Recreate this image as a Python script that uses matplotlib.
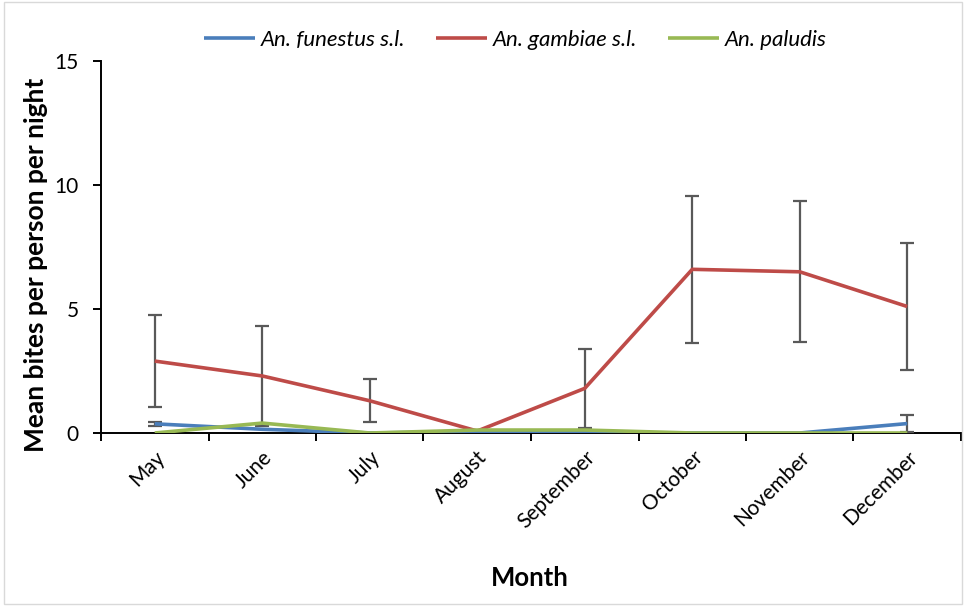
import matplotlib
matplotlib.use("Agg")
import matplotlib.pyplot as plt
from matplotlib.patches import Rectangle
import numpy as np

months = ["May", "June", "July", "August", "September", "October", "November", "December"]

funestus = [0.37, 0.15, 0.0, 0.05, 0.02, 0.0, 0.0, 0.38]
funestus_err = [0.08, 0.0, 0.0, 0.0, 0.0, 0.0, 0.0, 0.33]

gambiae = [2.9, 2.3, 1.3, 0.08, 1.8, 6.6, 6.5, 5.1]
gambiae_err = [1.85, 2.0, 0.87, 0.0, 1.6, 2.97, 2.85, 2.56]

paludis = [0.0, 0.4, 0.0, 0.12, 0.12, 0.0, 0.0, 0.0]

series_names = ["An. funestus s.l.", "An. gambiae s.l.", "An. paludis"]
colors = ["#4a7ebb", "#be4b48", "#98b954"]
err_color = "#595959"

plt.rcParams["font.family"] = ["Lato", "DejaVu Sans"]

fig = plt.figure(figsize=(9.65, 6.06), dpi=100)
ax = fig.add_axes([101 / 965, (606 - 433) / 606, 860 / 965, (433 - 61) / 606])

x = np.arange(len(months))

def plot_series(vals, errs, color, label, z):
    ax.plot(x, vals, color=color, lw=2.6, label=label, zorder=z, solid_capstyle="butt")
    if errs is not None:
        mask = np.array(errs) > 0
        ax.errorbar(x[mask], np.array(vals)[mask], yerr=np.array(errs)[mask], fmt="none",
                    ecolor=err_color, elinewidth=1.6, capsize=5, capthick=1.6, zorder=z - 0.5)

plot_series(gambiae, gambiae_err, colors[1], series_names[1], 3)
plot_series(funestus, funestus_err, colors[0], series_names[0], 4)
plot_series(paludis, None, colors[2], series_names[2], 5)

ax.set_xlim(-0.5, len(months) - 0.5)
ax.set_ylim(0, 15)
ax.set_yticks([0, 5, 10, 15])
ax.tick_params(axis="y", direction="out", length=6, width=1.4, labelsize=15, pad=10)

ax.set_xticks(x)
ax.set_xticklabels(months, rotation=45, ha="right", rotation_mode="anchor", fontsize=15)
ax.set_xticks(np.arange(-0.5, len(months)), minor=True)
ax.tick_params(axis="x", which="major", length=0, pad=10)
ax.tick_params(axis="x", which="minor", direction="out", length=6, width=1.4)

for side in ["top", "right"]:
    ax.spines[side].set_visible(False)
for side in ["left", "bottom"]:
    ax.spines[side].set_linewidth(1.4)
    ax.spines[side].set_color("black")

ax.set_xlabel("Month", fontsize=18.5, fontweight="bold")
ax.xaxis.set_label_coords(0.499, -0.358)
ax.set_ylabel("Mean bites per person per night", fontsize=19, fontweight="bold")
ax.yaxis.set_label_coords(-0.062, 0.452)

handles, labels = ax.get_legend_handles_labels()
order = [labels.index(n) for n in series_names]
leg = fig.legend([handles[i] for i in order], [labels[i] for i in order],
                 loc="center", bbox_to_anchor=(0.534, 1 - 40 / 606), ncol=3, frameon=False,
                 prop={"style": "italic", "size": 16}, handlelength=2.3, columnspacing=1.4,
                 handletextpad=0.25)

fig.patches.append(Rectangle((4 / 965, 2 / 606), 958 / 965, 602 / 606, transform=fig.transFigure,
                             fill=False, edgecolor="#d9d9d9", lw=1))

fig.savefig("out.png", dpi=100)
